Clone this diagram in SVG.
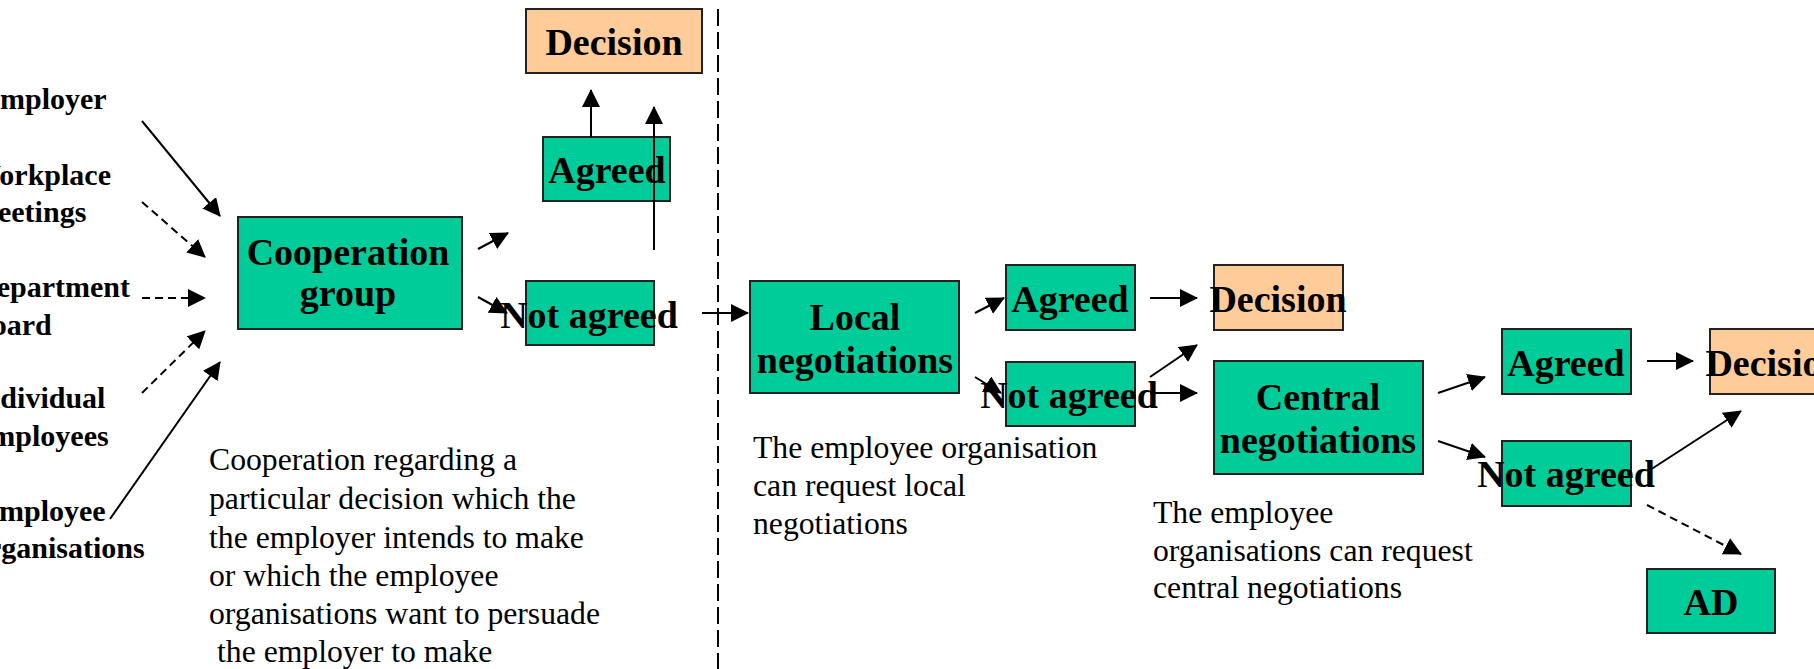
<svg xmlns="http://www.w3.org/2000/svg" width="1814" height="669" viewBox="0 0 1814 669">
<style>
.g{fill:#00CC99;stroke:#222;stroke-width:2}
.p{fill:#FFCC99;stroke:#222;stroke-width:2}
.t{font-family:"Liberation Serif","Times New Roman",serif;font-weight:bold;font-size:38px;fill:#000;text-anchor:middle}
.l{font-family:"Liberation Serif","Times New Roman",serif;font-weight:bold;font-size:30px;fill:#000}
.d{font-family:"Liberation Serif","Times New Roman",serif;font-size:31.7px;fill:#000}
.c{fill:none;stroke:#000;stroke-width:2;marker-end:url(#ah)}
.dash{stroke-dasharray:8 5}
</style>
<defs>
<marker id="ah" viewBox="0 0 18 18" refX="17" refY="9" markerWidth="18" markerHeight="18" markerUnits="userSpaceOnUse" orient="auto">
<path d="M0,0 L18,9 L0,18 z" fill="#000"/>
</marker>
</defs>
<rect width="1814" height="669" fill="#fff"/>

<g id="labels">
<text class="l" x="-20" y="109">Employer</text>
<text class="l" x="-29" y="185">Workplace</text>
<text class="l" x="-27" y="222">meetings</text>
<text class="l" x="-25" y="297">Department</text>
<text class="l" x="-25" y="335">board</text>
<text class="l" x="-28" y="408">Individual</text>
<text class="l" x="-23" y="446">employees</text>
<text class="l" x="-21" y="521">Employee</text>
<text class="l" x="-27" y="558">organisations</text>
</g>

<g id="descriptions">
<text class="d" x="209" y="470">Cooperation regarding a</text>
<text class="d" x="209" y="509">particular decision which the</text>
<text class="d" x="209" y="548">the employer intends to make</text>
<text class="d" x="209" y="586">or which the employee</text>
<text class="d" x="209" y="624">organisations want to persuade</text>
<text class="d" x="217" y="662">the employer to make</text>
<text class="d" x="753" y="458">The employee organisation</text>
<text class="d" x="753" y="496">can request local</text>
<text class="d" x="753" y="534">negotiations</text>
<text class="d" x="1153" y="523">The employee</text>
<text class="d" x="1153" y="561">organisations can request</text>
<text class="d" x="1153" y="598">central negotiations</text>
</g>

<line id="divider" x1="718" y1="9" x2="718" y2="669" stroke="#000" stroke-width="2" stroke-dasharray="17 6"/>

<g id="n-coop"><rect class="g" x="238" y="217" width="224" height="112"/><text class="t" x="348" y="265">Cooperation</text><text class="t" x="348" y="306">group</text></g>
<g id="n-agreed1"><rect class="g" x="543" y="137" width="127" height="64"/><text class="t" x="607" y="183">Agreed</text></g>
<g id="n-decision1"><rect class="p" x="526" y="9" width="176" height="64"/><text class="t" x="614" y="55">Decision</text></g>
<g id="n-notagreed1"><rect class="g" x="526" y="281" width="128" height="64"/><text class="t" x="589" y="328">Not agreed</text></g>
<g id="n-local"><rect class="g" x="750" y="281" width="209" height="112"/><text class="t" x="855" y="330">Local</text><text class="t" x="855" y="373">negotiations</text></g>
<g id="n-agreed2"><rect class="g" x="1006" y="265" width="129" height="65"/><text class="t" x="1070" y="312">Agreed</text></g>
<g id="n-decision2"><rect class="p" x="1214" y="265" width="129" height="65"/><text class="t" x="1278" y="312">Decision</text></g>
<g id="n-notagreed2"><rect class="g" x="1006" y="362" width="129" height="64"/><text class="t" x="1069" y="408">Not agreed</text></g>
<g id="n-central"><rect class="g" x="1214" y="361" width="209" height="113"/><text class="t" x="1318" y="410">Central</text><text class="t" x="1318" y="453">negotiations</text></g>
<g id="n-agreed3"><rect class="g" x="1502" y="329" width="129" height="65"/><text class="t" x="1566" y="376">Agreed</text></g>
<g id="n-decision3"><rect class="p" x="1710" y="329" width="129" height="65"/><text class="t" x="1774" y="376">Decision</text></g>
<g id="n-notagreed3"><rect class="g" x="1502" y="441" width="129" height="65"/><text class="t" x="1566" y="487">Not agreed</text></g>
<g id="n-ad"><rect class="g" x="1647" y="569" width="128" height="64"/><text class="t" x="1711" y="615">AD</text></g>

<g id="connectors">
<line class="c" x1="142" y1="121" x2="220" y2="216"/>
<line class="c dash" x1="142" y1="202" x2="205" y2="257"/>
<line class="c dash" x1="142" y1="298" x2="205" y2="298"/>
<line class="c dash" x1="142" y1="393" x2="205" y2="331"/>
<line class="c" x1="110" y1="519" x2="220" y2="362"/>
<line class="c" x1="478" y1="249" x2="508" y2="233"/>
<line class="c" x1="478" y1="297" x2="507" y2="313"/>
<line class="c" x1="591" y1="137" x2="591" y2="90"/>
<line class="c" x1="654" y1="250" x2="654" y2="107"/>
<line class="c" x1="702" y1="313" x2="748" y2="313"/>
<line class="c" x1="975" y1="313" x2="1004" y2="298"/>
<line class="c" x1="975" y1="377" x2="1001" y2="393"/>
<line class="c" x1="1150" y1="298" x2="1197" y2="298"/>
<line class="c" x1="1150" y1="377" x2="1197" y2="345"/>
<line class="c" x1="1150" y1="393" x2="1197" y2="393"/>
<line class="c" x1="1438" y1="393" x2="1485" y2="377"/>
<line class="c" x1="1438" y1="441" x2="1485" y2="457"/>
<line class="c" x1="1647" y1="361" x2="1693" y2="361"/>
<line class="c" x1="1650" y1="470" x2="1741" y2="411"/>
<line class="c dash" x1="1647" y1="505" x2="1741" y2="554"/>
</g>
</svg>
